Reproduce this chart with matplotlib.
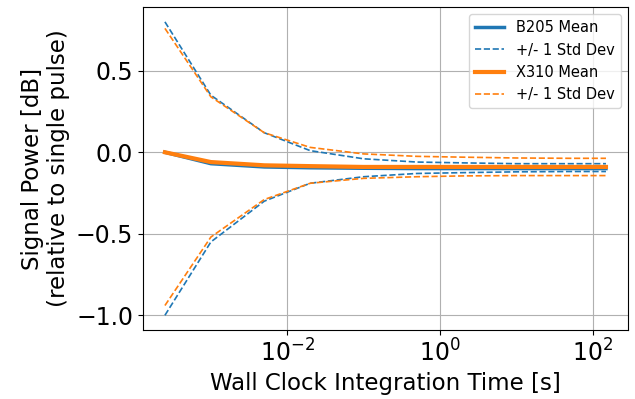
import matplotlib
matplotlib.use("Agg")
import matplotlib.pyplot as plt
from matplotlib.ticker import NullLocator

# integration time [s]
t_int = [2.5e-4, 1e-3, 5e-3, 2e-2, 1e-1, 5e-1, 2, 10, 50, 150]

b205_mean = [0.0, -0.07, -0.09, -0.095, -0.098, -0.1, -0.1, -0.1, -0.1, -0.1]
b205_hi = [0.80, 0.35, 0.12, 0.01, -0.04, -0.06, -0.065, -0.07, -0.07, -0.07]
b205_lo = [-1.0, -0.55, -0.30, -0.19, -0.15, -0.13, -0.125, -0.12, -0.118, -0.118]

x310_mean = [0.0, -0.06, -0.08, -0.085, -0.09, -0.09, -0.09, -0.09, -0.09, -0.09]
x310_hi = [0.76, 0.34, 0.12, 0.03, -0.01, -0.025, -0.03, -0.035, -0.037, -0.037]
x310_lo = [-0.94, -0.52, -0.29, -0.19, -0.16, -0.15, -0.145, -0.143, -0.143, -0.143]

xticks = [1e-2, 1e0, 1e2]

fig = plt.figure(figsize=(6.35, 3.99), dpi=100)
ax = fig.add_axes([0.225, 0.173, 0.764, 0.809])

ax.plot(t_int, b205_mean, color="C0", lw=2.5, label="B205 Mean")
ax.plot(t_int, b205_hi, color="C0", lw=1.2, ls="--", label="+/- 1 Std Dev")
ax.plot(t_int, b205_lo, color="C0", lw=1.2, ls="--")
ax.plot(t_int, x310_mean, color="C1", lw=3, label="X310 Mean")
ax.plot(t_int, x310_hi, color="C1", lw=1.2, ls="--", label="+/- 1 Std Dev")
ax.plot(t_int, x310_lo, color="C1", lw=1.2, ls="--")

ax.set_xscale("log")
ax.set_xticks(xticks)
ax.xaxis.set_minor_locator(NullLocator())
ax.grid(True)
ax.tick_params(labelsize=17)
ax.set_xlabel("Wall Clock Integration Time [s]", fontsize=16.5)
ax.set_ylabel("Signal Power [dB]\n(relative to single pulse)", fontsize=16.5)
ax.legend(fontsize=10.5, loc="upper right")

fig.savefig("out.png")
